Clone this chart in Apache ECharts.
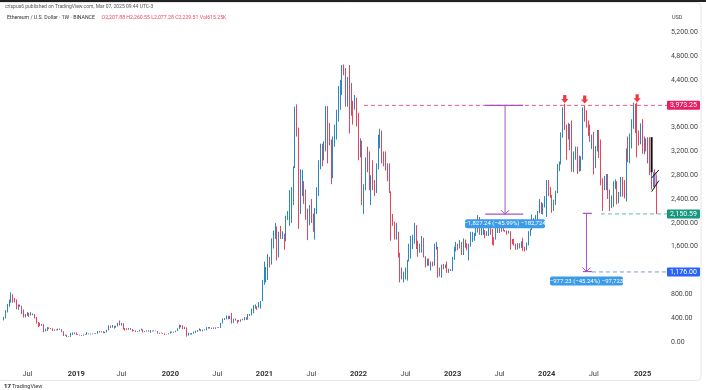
<!DOCTYPE html>
<html><head><meta charset="utf-8">
<script src="https://cdn.jsdelivr.net/npm/echarts@6/dist/echarts.min.js"></script>
<style>html,body{margin:0;padding:0;background:#fff}#c{width:706px;height:390px}</style>
</head><body><div id="c"></div>
<script>
// weekly candles: [open, close, low, high]
const eth2018=[[397,401,362,422],[401,502,395,535],[502,620,495,640],[620,670,590,710],[670,790,660,835],
[790,730,660,800],[730,710,665,740],[710,580,550,715],[580,620,540,630],
[620,600,590,630],[600,500,470,610],[500,455,410,545],[455,450,415,470],
[450,490,440,500],[490,450,420,490],[450,470,445,500],[470,470,450,480],[470,410,395,470],
[410,320,310,420],[320,295,250,335],[295,280,265,325],[280,295,272,300],
[295,195,165,300],[195,220,180,225],[220,245,185,250],[245,230,215,245],
[230,225,215,235],[225,195,185,230],[195,205,190,210],[205,200,195,210],[200,210,195,225],
[210,210,205,225],[210,175,165,215],[175,115,100,180],[115,115,105,125],
[115,85,83,120],[85,85,82,95],[85,130,85,150],[130,135,120,160],[135,155,130,160]];
const eth2019=[[155,125,118,158],[125,120,115,130],[120,115,110,125],[115,110,102,118],
[110,120,105,125],[120,125,118,130],[125,145,123,165],[145,135,128,145],
[135,135,125,140],[135,140,130,142],[140,138,132,145],[138,140,132,145],
[140,175,138,185],[175,165,158,185],[165,170,160,180],[170,155,148,180],[155,170,150,172],
[170,200,162,205],[200,260,195,280],[260,250,235,275],[250,265,240,285],
[265,245,225,270],[245,265,240,275],[265,310,260,320],[310,290,280,360],
[290,305,275,320],[305,225,210,315],[225,220,190,235],[220,205,200,230],[205,225,205,235],
[225,210,205,235],[210,185,175,215],[185,190,182,200],[190,170,165,195],
[170,180,168,182],[180,200,176,205],[200,210,195,225],[210,165,158,210],[165,180,165,182],
[180,190,175,195],[190,175,170,195],[175,180,155,200],[180,185,175,190],
[185,185,180,195],[185,185,180,190],[185,150,140,185],[150,150,138,155],
[150,148,144,155],[148,142,138,150],[142,132,118,145],[132,128,125,135],[128,143,127,145]];
const eth2020=[[143,165,140,175],[165,168,155,175],[168,168,155,172],[168,190,165,190],
[190,225,185,230],[225,265,220,290],[265,260,245,285],[260,218,215,280],
[218,240,215,255],[240,125,90,245],[125,130,110,155],[130,130,125,145],[130,145,125,150],
[145,160,140,175],[160,185,150,190],[185,195,170,200],[195,210,190,228],
[210,185,180,215],[185,200,180,205],[200,205,195,210],[205,245,195,250],
[245,245,225,250],[245,230,225,250],[230,230,220,240],[230,225,220,245],[225,240,220,245],
[240,240,235,245],[240,240,235,245],[240,315,235,320],[315,390,310,395],
[390,395,370,400],[395,435,380,445],[435,390,380,440],[390,430,385,440],[430,355,310,488],
[355,385,320,390],[385,365,360,395],[365,355,310,370],[355,350,340,370],
[350,375,340,380],[375,370,365,390],[370,410,365,420],[410,385,370,415],
[385,455,375,470],[455,460,440,470],[460,550,445,560],[550,575,480,620],[575,595,560,630],
[595,585,540,600],[585,640,575,670],[640,685,560,690],[685,975,685,1040]];
const eth2021=[[975,1230,960,1350],[1230,1230,1000,1260],[1230,1390,1040,1475],[1390,1370,1250,1430],
[1370,1610,1300,1740],[1610,1810,1570,1870],[1810,1940,1730,2000],[1940,1420,1370,1940],
[1420,1835,1420,1850],[1835,1790,1730,1950],[1790,1790,1730,1860],[1790,1690,1550,1820],[1690,2080,1690,2120],
[2080,2140,2050,2200],[2140,2240,1950,2550],[2240,2310,2000,2600],[2310,2950,2300,2950],
[2950,3920,2920,3950],[3920,3580,3450,3990],[3580,2290,1900,3600],[2290,2640,2150,2900],[2640,2650,2450,2890],
[2650,2500,2320,2700],[2500,2240,2050,2560],[2240,1990,1710,2240],[1990,2230,1960,2300],
[2230,2140,2000,2400],[2140,1875,1850,2160],[1875,2190,1720,2250],[2190,2530,2150,2600],
[2530,3010,2450,3050],[3010,3310,2900,3330],[3310,3225,2950,3330],[3225,3225,3050,3370],[3225,3930,3200,3960],
[3930,3400,3000,3960],[3400,3330,3300,3680],[3330,3060,2650,3400],[3060,3390,2750,3450],
[3390,3410,3280,3650],[3410,3840,3400,3900],[3840,4170,3700,4300],[4170,4290,3900,4400],
[4290,4610,4150,4650],[4610,4570,4480,4660],[4570,4090,3950,4600],[4090,4290,3950,4450],[4290,4190,3500,4650],
[4190,3960,3800,4350],[3960,3920,3650,4050],[3920,4050,3900,4150],[4050,3680,3620,4100]];
const eth2022=[[3680,3200,3050,3850],[3200,3330,3100,3420],[3330,2400,2300,3380],[2400,2600,2150,2650],[2600,3050,2550,3100],
[3050,2880,2850,3280],[2880,2620,2550,3200],[2620,2620,2300,2800],[2620,2560,2550,3050],
[2560,2520,2450,2720],[2520,2930,2500,3000],[2930,3280,2900,3480],[3280,3450,3250,3580],
[3450,3030,3000,3550],[3030,3000,2950,3200],[3000,2920,2880,3200],[2920,2830,2700,3000],
[2830,2520,2500,3000],[2520,2060,1700,2530],[2060,1970,1950,2150],[1970,1790,1720,2020],[1790,1800,1720,2000],
[1800,1450,1420,1850],[1450,1130,1000,1500],[1130,1070,1050,1250],[1070,1070,1000,1180],
[1070,1220,1050,1250],[1220,1350,1030,1380],[1350,1550,1350,1650],[1550,1680,1400,1780],
[1680,1700,1560,1800],[1700,1930,1650,2000],[1930,1580,1560,1960],[1580,1550,1430,1700],[1550,1570,1500,1650],
[1570,1720,1500,1780],[1720,1430,1420,1750],[1430,1310,1250,1440],[1310,1330,1280,1400],
[1330,1300,1280,1400],[1300,1300,1200,1350],[1300,1290,1270,1350],[1290,1580,1280,1650],[1580,1580,1550,1680],
[1580,1220,1080,1600],[1220,1140,1100,1250],[1140,1290,1080,1300],[1290,1260,1220,1310],
[1260,1280,1240,1300],[1280,1170,1160,1350],[1170,1220,1160,1230],[1220,1200,1190,1225]];
const eth2023=[[1200,1420,1190,1430],[1420,1550,1380,1600],[1550,1630,1520,1680],[1630,1590,1540,1650],[1590,1630,1570,1710],
[1630,1515,1460,1680],[1515,1690,1460,1740],[1690,1640,1580,1720],[1640,1560,1540,1660],
[1560,1630,1370,1650],[1630,1740,1600,1850],[1740,1760,1680,1850],[1760,1810,1700,1830],
[1810,1860,1780,1950],[1860,2080,1840,2130],[2080,1850,1800,2100],[1850,1870,1790,1950],
[1870,1870,1800,2000],[1870,1800,1740,1880],[1800,1820,1780,1860],[1820,1900,1780,1930],[1900,1840,1800,1950],
[1840,1750,1630,1900],[1750,1720,1620,1760],[1720,1890,1720,1930],[1890,1950,1830,1950],
[1950,1880,1830,1960],[1880,1940,1850,2020],[1940,1890,1860,1950],[1890,1860,1850,1880],[1860,1830,1800,1870],
[1830,1850,1820,1870],[1850,1660,1550,1860],[1660,1650,1640,1730],[1650,1630,1620,1730],
[1630,1620,1550,1650],[1620,1640,1550,1660],[1640,1580,1570,1660],[1580,1670,1580,1690],
[1670,1580,1530,1750],[1580,1560,1520,1600],[1560,1630,1540,1670],[1630,1790,1620,1860],[1790,1890,1780,1900],
[1890,2050,1880,2140],[2050,2010,1940,2080],[2010,2060,1930,2130],[2060,2170,2000,2200],
[2170,2350,2160,2400],[2350,2200,2150,2350],[2200,2270,2140,2330],[2270,2350,2260,2450]];
const eth2024=[[2350,2520,2100,2720],[2520,2470,2450,2720],[2470,2460,2420,2600],[2460,2270,2170,2470],[2270,2300,2200,2390],
[2300,2500,2300,2540],[2500,2880,2500,2990],[2880,2990,2870,3030],[2990,3430,2980,3520],
[3430,3890,3430,3940],[3890,3650,3560,4000],[3650,3450,3060,3650],[3450,3650,3400,3680],
[3650,3450,3220,3660],[3450,3060,2860,3720],[3060,3150,2850,3200],[3150,3250,3060,3280],[3250,3110,2820,3280],
[3110,2940,2860,3130],[2940,3070,2870,3120],[3070,3890,3060,3940],[3890,3760,3700,3975],
[3760,3700,3600,3890],[3700,3560,3460,3720],[3560,3420,3360,3650],[3420,3440,3240,3480],
[3440,2930,2810,3530],[2930,3240,2920,3290],[3240,3440,3200,3560],[3440,3260,3090,3560],[3260,2690,2630,3400],
[2690,2610,2200,2750],[2610,2610,2550,2790],[2610,2750,2550,2820],[2750,2420,2400,2820],
[2420,2280,2200,2560],[2280,2420,2250,2460],[2420,2580,2270,2700],[2580,2640,2570,2730],[2640,2440,2310,2700],
[2440,2450,2330,2520],[2450,2750,2440,2770],[2750,2510,2440,2770],[2510,2470,2410,2720],
[2470,3180,2360,3250],[3180,3080,3020,3450],[3080,3360,3000,3500],[3360,3700,3250,3740],
[3700,4000,3580,4020],[4000,3870,3510,4000],[3870,3410,3100,4020],[3410,3360,3300,3550],[3360,3630,3320,3670]];
const eth2025=[[3630,3270,3160,3740],[3270,3310,3150,3450],[3310,3240,3200,3420],[3240,3100,3000,3440],
[3100,2850,2800,3440],[2850,2640,2560,2880],[2640,2820,2600,2850],[2820,2760,2580,2900],[2760,2230,2150,2800]];

const firstWeek='2018-04-02';
const emptyWeeksAfter=5;
const priceTicks={min:-400,max:5600,step:400};
const hiddenTickValues=[-400,5600,4000,1200];
const headerLine1='crispus6 published on TradingView.com, Mar 07, 2025 09:44 UTC-3';
const symbolTitle='Ethereum / U.S. Dollar · 1W · BINANCE';
const ohlcText='O2,207.88 H2,260.55 L2,077.28 C2,229.51 Vol615.25K';
const resistance=3973.25, support=2150.59, target=1176.00;
const measure1={idx:276.5,barFrom:266,barTo:287,from:3973.25,to:2146.01,text:'\u22121,827.24 (\u221245.99%) \u2212182,724'};
const measure2={idx:322,barFrom:320,barTo:325,from:2160.01,to:1182.78,text:'\u2212977.23 (\u221245.24%) \u221297,723'};
const peakArrows=[[310,4015],[321,4005],[350,4025]];
const flagPole={idx:358,top:3440,bottom:2850};
const flagUpper=[[358,2754],[361.6,2888]];
const flagLower=[[357.5,2524],[361.6,2709]];
const flagBox={from:358.9,to:361.1,top:2855,bottom:2636};

const candles=[].concat(eth2018,eth2019,eth2020,eth2021,eth2022,eth2023,eth2024,eth2025);
const cats=[];
const d0=new Date(firstWeek+'T00:00:00Z');
for(let i=0;i<candles.length+emptyWeeksAfter;i++){cats.push(new Date(d0.getTime()+i*7*864e5).toISOString().slice(0,10));}
const isLabelWeek=v=>{const m=+v.slice(5,7),d=+v.slice(8,10);return (m===1||m===7)&&d<=7;};
const fmtPrice=v=>v.toLocaleString('en-US',{minimumFractionDigits:2,maximumFractionDigits:2});

const FONT='Roboto';
const UP='#2b86c2', DOWN='#e2465d';
const chart=echarts.init(document.getElementById('c'),null,{renderer:'canvas'});
chart.setOption({
  animation:false,
  backgroundColor:'#fff',
  grid:{left:3,top:8.5,width:664,height:357.3},
  xAxis:{type:'category',data:cats,boundaryGap:true,
    axisLine:{show:false},axisTick:{show:false},splitLine:{show:false},
    axisLabel:{interval:(i,v)=>isLabelWeek(v),margin:4,
      formatter:v=>(+v.slice(5,7)===1?'{y|'+v.slice(0,4)+'}':'{m|Jul}'),
      rich:{y:{fontSize:7.5,fontWeight:'bold',color:'#333',fontFamily:FONT},m:{fontSize:7.5,color:'#444',fontFamily:FONT}}}},
  yAxis:{type:'value',position:'right',min:priceTicks.min,max:priceTicks.max,interval:priceTicks.step,
    axisLine:{show:false},axisTick:{show:false},splitLine:{show:false},
    axisLabel:{margin:4,fontSize:7,color:'#444',fontFamily:FONT,
      formatter:v=>hiddenTickValues.includes(v)?'':fmtPrice(v)}},
  series:[{type:'candlestick',data:candles,barWidth:1,
    itemStyle:{color:UP,color0:DOWN,borderColor:UP,borderColor0:DOWN,borderWidth:1}}]
});

const px=(i,v)=>chart.convertToPixel({gridIndex:0},[i,v]);
const band=px(1,0)[0]-px(0,0)[0];
const gridRight=px(cats.length-1,0)[0]+band/2;
const els=[];
function dashed(fromIdx,val,color){const a=px(fromIdx,val);
  els.push({type:'line',z:50,shape:{x1:a[0],y1:a[1],x2:gridRight,y2:a[1]},style:{stroke:color,lineWidth:1,lineDash:[4,3]}});}
function tag(val,color){const y=px(0,val)[1];
  els.push({type:'rect',z:60,shape:{x:gridRight,y:y-4.5,width:33,height:9,r:1},style:{fill:color}});
  els.push({type:'text',z:61,style:{x:gridRight+16.5,y:y,text:fmtPrice(val),fill:'#fff',font:'7px '+FONT,align:'center',verticalAlign:'middle'}});}
dashed(198.5,resistance,'#e0607c'); tag(resistance,'#e91e63');
dashed(329.5,support,'#6fb3aa'); tag(support,'#17977f');
dashed(325,target,'#7a9ad8'); tag(target,'#2962ff');

const PUR='#a552c6';
function measure(m,boxW){
  const t=px(m.idx,m.from), b=px(m.idx,m.to);
  const l1=px(m.barFrom,m.from), r1=px(m.barTo,m.from), l2=px(m.barFrom,m.to), r2=px(m.barTo,m.to);
  els.push({type:'line',z:55,shape:{x1:l1[0],y1:l1[1],x2:r1[0],y2:r1[1]},style:{stroke:PUR,lineWidth:1.2}});
  els.push({type:'line',z:55,shape:{x1:l2[0],y1:l2[1],x2:r2[0],y2:r2[1]},style:{stroke:PUR,lineWidth:1.2}});
  els.push({type:'line',z:55,shape:{x1:t[0],y1:t[1],x2:b[0],y2:b[1]},style:{stroke:PUR,lineWidth:1}});
  els.push({type:'polyline',z:55,shape:{points:[[b[0]-4,b[1]-4],[b[0],b[1]],[b[0]+4,b[1]-4]]},style:{stroke:PUR,lineWidth:1,fill:null}});
  els.push({type:'rect',z:62,shape:{x:b[0]-boxW/2,y:b[1]+5,width:boxW,height:9,r:2},style:{fill:'#3b9be6'}});
  els.push({type:'text',z:63,style:{x:b[0],y:b[1]+9.7,text:m.text,fill:'#fff',font:'6px '+FONT,align:'center',verticalAlign:'middle'}});
}
measure(measure1,80); measure(measure2,73);

peakArrows.forEach(([i,v])=>{const [x,y]=px(i,v);
  els.push({type:'polygon',z:58,shape:{points:[[x-1.6,y-8],[x+1.6,y-8],[x+1.6,y-4],[x+3.6,y-4],[x,y],[x-3.6,y-4],[x-1.6,y-4]]},style:{fill:'#f23645'}});});

{const a=px(flagBox.from,flagBox.top),b=px(flagBox.to,flagBox.bottom);
 els.push({type:'rect',z:56,shape:{x:a[0],y:a[1],width:b[0]-a[0],height:b[1]-a[1]},style:{fill:'rgba(130,130,235,0.55)'}});}
{const a=px(flagPole.idx,flagPole.top),b=px(flagPole.idx,flagPole.bottom);
 els.push({type:'line',z:57,shape:{x1:a[0],y1:a[1],x2:b[0],y2:b[1]},style:{stroke:'#111',lineWidth:2}});}
[flagUpper,flagLower].forEach(s=>{const a=px(s[0][0],s[0][1]),b=px(s[1][0],s[1][1]);
 els.push({type:'line',z:57,shape:{x1:a[0],y1:a[1],x2:b[0],y2:b[1]},style:{stroke:'#111',lineWidth:1}});});

// header, axis unit, logo, frame
els.push({type:'rect',z:1,shape:{x:0,y:0,width:706,height:2},style:{fill:'#222'}});
els.push({type:'rect',z:1,shape:{x:-2,y:2.5,width:703,height:378,r:4},style:{fill:null,stroke:'#e6e6e6',lineWidth:1}});
els.push({type:'text',z:70,style:{x:5,y:6.7,text:headerLine1,fill:'#555',font:'5px '+FONT,verticalAlign:'middle'}});
els.push({type:'text',z:70,style:{x:7,y:17.3,text:'{a|'+symbolTitle+'}  {b|'+ohlcText+'}',verticalAlign:'middle',
  rich:{a:{fill:'#333',font:'5.2px '+FONT},b:{fill:'#e8475c',font:'5.2px '+FONT}}}});
els.push({type:'text',z:70,style:{x:672,y:18,text:'USD',fill:'#444',font:'5.5px '+FONT,verticalAlign:'middle'}});
els.push({type:'text',z:70,style:{x:4,y:386.5,text:'17',fill:'#111',font:'bold 6px '+FONT,verticalAlign:'middle'}});
els.push({type:'text',z:70,style:{x:12,y:386.5,text:'TradingView',fill:'#333',font:'5.5px '+FONT,verticalAlign:'middle'}});
chart.setOption({graphic:{elements:els}});
</script></body></html>
